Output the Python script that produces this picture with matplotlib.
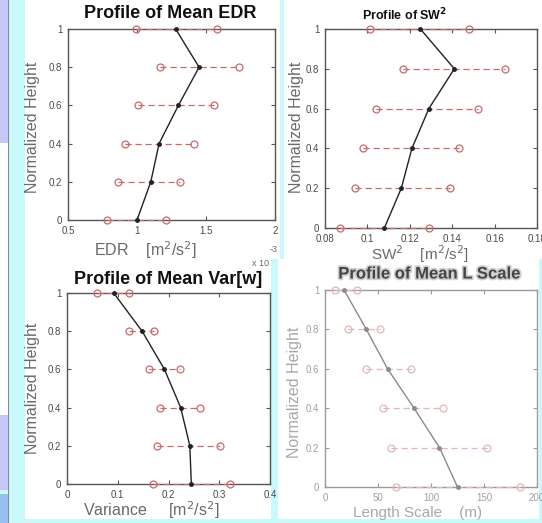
import matplotlib
matplotlib.use("Agg")
import matplotlib.pyplot as plt
import matplotlib.patheffects as pe
from matplotlib.patches import Rectangle

W, H = 542, 523

# ---------------------------------------------------------------- data
heights = [0, 0.2, 0.4, 0.6, 0.8, 1.0]

# EDR (x 1e-3)
edr_mean = [1.00, 1.10, 1.16, 1.30, 1.45, 1.28]
edr_lo = [0.78, 0.86, 0.91, 1.01, 1.17, 0.99]
edr_hi = [1.21, 1.31, 1.41, 1.56, 1.74, 1.58]

# SW^2
sw_mean = [0.108, 0.116, 0.121, 0.129, 0.141, 0.125]
sw_lo = [0.087, 0.094, 0.098, 0.104, 0.117, 0.101]
sw_hi = [0.129, 0.139, 0.143, 0.152, 0.165, 0.148]

# Var[w]
var_mean = [0.245, 0.242, 0.224, 0.192, 0.148, 0.092]
var_lo = [0.170, 0.178, 0.183, 0.161, 0.122, 0.059]
var_hi = [0.322, 0.301, 0.263, 0.222, 0.172, 0.122]

# L scale
ls_mean = [125, 108, 84, 59, 39, 18]
ls_lo = [67, 62, 55, 39, 22, 9]
ls_hi = [184, 153, 111, 81, 52, 30]

y_ticks = [0, 0.2, 0.4, 0.6, 0.8, 1]
y_labels = ["0", "0.2", "0.4", "0.6", "0.8", "1"]
edr_ticks = [0.5, 1, 1.5, 2]
edr_labels = ["0.5", "1", "1.5", "2"]
sw_ticks = [0.08, 0.10, 0.12, 0.14, 0.16, 0.18]
sw_labels = ["0.08", "0.1", "0.12", "0.14", "0.16", "0.18"]
var_ticks = [0, 0.1, 0.2, 0.3, 0.4]
var_labels = ["0", "0.1", "0.2", "0.3", "0.4"]
ls_ticks = [0, 50, 100, 150, 200]
ls_labels = ["0", "50", "100", "150", "200"]

CYAN = "#c8fafc"
LAV = "#c6c6f8"
FONT = ["Liberation Sans", "DejaVu Sans"]
plt.rcParams["font.family"] = FONT

fig = plt.figure(figsize=(W / 100, H / 100), dpi=100, facecolor=CYAN)


def px_rect(x0, y0, x1, y1, **kw):
    fig.patches.append(Rectangle((x0 / W, 1 - y1 / H), (x1 - x0) / W, (y1 - y0) / H,
                                 transform=fig.transFigure, zorder=-5, **kw))


def ftext(x, y, s, **kw):
    fig.text(x / W, 1 - y / H, s, **kw)


# slide background pieces
px_rect(25, 0, 280, 259, facecolor="white", edgecolor="none")
px_rect(25, 259, 271, 519, facecolor="white", edgecolor="none")
px_rect(284, 0, 542, 259, facecolor="white", edgecolor="none")
px_rect(278, 259, 539, 519, facecolor="white", edgecolor="none")
px_rect(0, 0, 8, 143, facecolor=LAV, edgecolor="none")
px_rect(0, 143, 8, 415, facecolor="white", edgecolor="none")
px_rect(0, 415, 8, 490, facecolor=LAV, edgecolor="none")
px_rect(0, 494, 8, 523, facecolor="#98c0ee", edgecolor="none")
px_rect(8, 0, 9, 523, facecolor="#8a8a8a", edgecolor="none")

LABEL_C = "#6a6a6a"
FADE_C = "#a8a8a8"


def make_axes(x0, y0, x1, y1, faded=False):
    ax = fig.add_axes([x0 / W, 1 - y1 / H, (x1 - x0) / W, (y1 - y0) / H])
    ax.set_facecolor("white")
    spine_c = "#9a9a9a" if faded else "#555555"
    for s in ax.spines.values():
        s.set_color(spine_c)
        s.set_linewidth(1.0)
    ax.tick_params(direction="in", top=True, right=True, length=3,
                   colors=spine_c, labelcolor="#a0a0a0" if faded else "#4a4a4a",
                   labelsize=7, pad=4)
    ax.set_ylim(0, 1)
    ax.set_yticks(y_ticks, y_labels)
    return ax


def profile(ax, mean, lo, hi, faded=False):
    red = "#e0b8b8" if faded else "#c86a6a"
    blk = "#8a8a8a" if faded else "#222222"
    for h, a, b in zip(heights, lo, hi):
        ax.plot([a, b], [h, h], linestyle=(0, (5, 3)), color=red, lw=0.9,
                marker="o", mfc="none", mec=red, ms=5, mew=0.9, clip_on=False, zorder=3)
    ax.plot(mean, heights, color=blk, lw=1.0, marker="o", ms=2.5, mfc=blk, mec=blk,
            clip_on=False, zorder=4)


# top-left: EDR
ax1 = make_axes(68, 29, 275, 220)
profile(ax1, edr_mean, edr_lo, edr_hi)
ax1.set_xlim(0.5, 2)
ax1.set_xticks(edr_ticks, edr_labels)
ftext(170, 13, "Profile of Mean EDR", ha="center", va="center", fontsize=13,
      fontweight="bold", color="#111111")
ftext(145, 250, "EDR    [m$^2$/s$^2$]", ha="center", va="center", fontsize=11.5, color=LABEL_C)
ftext(274, 249, "-3", ha="center", va="center", fontsize=6.5, color=LABEL_C)
ftext(261, 264, "x 10", ha="center", va="center", fontsize=6.5, color=LABEL_C)
ftext(33, 127, "Normalized Height", ha="center", va="center", rotation=90,
      fontsize=11.5, color=LABEL_C)

# top-right: SW^2
ax2 = make_axes(325, 29, 537, 228)
profile(ax2, sw_mean, sw_lo, sw_hi)
ax2.set_xlim(0.08, 0.18)
ax2.set_xticks(sw_ticks, sw_labels)
ftext(405, 15, "Profile of SW$^\\mathbf{2}$", ha="center", va="center", fontsize=9,
      fontweight="bold", color="#111111")
ftext(420, 254, "SW$^2$    [m$^2$/s$^2$]", ha="center", va="center", fontsize=11, color=LABEL_C)
ftext(297, 127, "Normalized Height", ha="center", va="center", rotation=90,
      fontsize=11.5, color=LABEL_C)

# bottom-left: Var[w]
ax3 = make_axes(67, 293, 270, 484)
profile(ax3, var_mean, var_lo, var_hi)
ax3.set_xlim(0, 0.4)
ax3.set_xticks(var_ticks, var_labels)
ftext(168, 280, "Profile of Mean Var[w]", ha="center", va="center", fontsize=13,
      fontweight="bold", color="#111111")
ftext(151, 510, "Variance     [m$^2$/s$^2$]", ha="center", va="center", fontsize=11.5,
      color=LABEL_C)
ftext(33, 388, "Normalized Height", ha="center", va="center", rotation=90,
      fontsize=11.5, color=LABEL_C)

# bottom-right: L scale (faded in the original)
ax4 = make_axes(325, 290, 537, 487, faded=True)
profile(ax4, ls_mean, ls_lo, ls_hi, faded=True)
ax4.set_xlim(0, 200)
ax4.set_xticks(ls_ticks, ls_labels)
ftext(429, 274, "Profile of Mean L Scale", ha="center", va="center", fontsize=12,
      fontweight="bold", color="#444444",
      path_effects=[pe.withStroke(linewidth=2.5, foreground="#cfcfcf")])
ftext(418, 513, "Length Scale    (m)", ha="center", va="center", fontsize=11, color=FADE_C)
ftext(295, 392, "Normalized Height", ha="center", va="center", rotation=90,
      fontsize=11.5, color=FADE_C)

fig.savefig("out.png", dpi=100, facecolor=CYAN)
